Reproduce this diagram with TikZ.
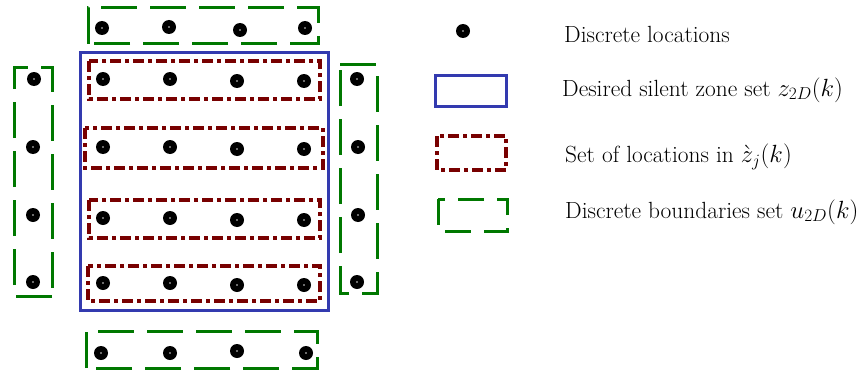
\documentclass[tikz,border=0pt]{standalone}
\usetikzlibrary{calc}
\definecolor{zoneblue}{RGB}{51,58,175}
\definecolor{setred}{RGB}{120,0,0}
\definecolor{bndgreen}{RGB}{0,120,0}
\begin{document}
\begin{tikzpicture}[x=1pt,y=-1pt,
  loc/.style={circle,fill=black,inner sep=0pt,minimum size=14pt},
  zonebox/.style={draw=zoneblue,line width=3pt},
  setbox/.style={draw=setred,line width=3.5pt,dash pattern=on 11pt off 4pt on 4pt off 4pt},
  bndbox/.style={draw=bndgreen,line width=3pt,dash pattern=on 36pt off 13pt},
  bndleg/.style={draw=bndgreen,line width=3pt,dash pattern=on 26pt off 13pt},
  lab/.style={anchor=west,inner sep=0pt,font=\fontsize{23.4}{28}\selectfont}]
\useasboundingbox (0,0) rectangle (866,369);
% blue zone
\draw[zonebox] (80,53) rectangle (328,310);
% red sets
\draw[setbox] (89,61) rectangle (320,99);
\draw[setbox] (85,128) rectangle (323,168);
\draw[setbox] (89,200) rectangle (320,238);
\draw[setbox] (88,266) rectangle (320,301);
% green boundaries
\draw[bndbox] (88,44) -- (88,8) -- (318,8) -- (318,44) -- cycle;
\draw[bndbox] (52,296) -- (14,296) -- (14,67) -- (52,67) -- cycle;
\draw[bndbox] (340,64) -- (377,64) -- (377,293) -- (340,293) -- cycle;
\draw[bndbox] (86,368) -- (86,331) -- (317,331) -- (317,368) -- cycle;
% dots
\foreach \n/\x/\y in {t1/102/28,t2/169/27,t3/240/30,t4/305/28,
  b1/101/353,b2/170/353,b3/237/351,b4/306/353,
  l1/34/79,l2/33/147,l3/33/215,l4/33/282,
  r1/357/79,r2/358/147,r3/358/215,r4/357/282,
  a1/103/79,a2/170/79,a3/237/81,a4/304/81,
  c1/103/147,c2/170/147,c3/237/149,c4/304/149,
  d1/103/218,d2/170/218,d3/237/220,d4/304/220,
  e1/103/283,e2/170/283,e3/237/285,e4/304/285}
  {\node[loc] (\n) at (\x,\y) {};
   \fill[white!70!gray] (\x,\y) circle (0.8pt);}
% legend
\node[loc] (legdot) at (463,31) {};
\fill[white!70!gray] (463,31) circle (0.8pt);
\draw[zonebox] (435,75) rectangle (506,106);
\draw[setbox] (437,136) rectangle (506,170);
\draw[bndleg] (438,199) rectangle (507,231);
\node[lab] (t1l) at (564,34) {Discrete locations};
\node[lab] (t2l) at (562,90) {Desired silent zone set $z_{2D}(k)$};
\node[lab] (t3l) at (565,157) {Set of locations in $\grave{z}_j(k)$};
\node[lab] (t4l) at (565,212) {Discrete boundaries set $u_{2D}(k)$};
\end{tikzpicture}
\end{document}
